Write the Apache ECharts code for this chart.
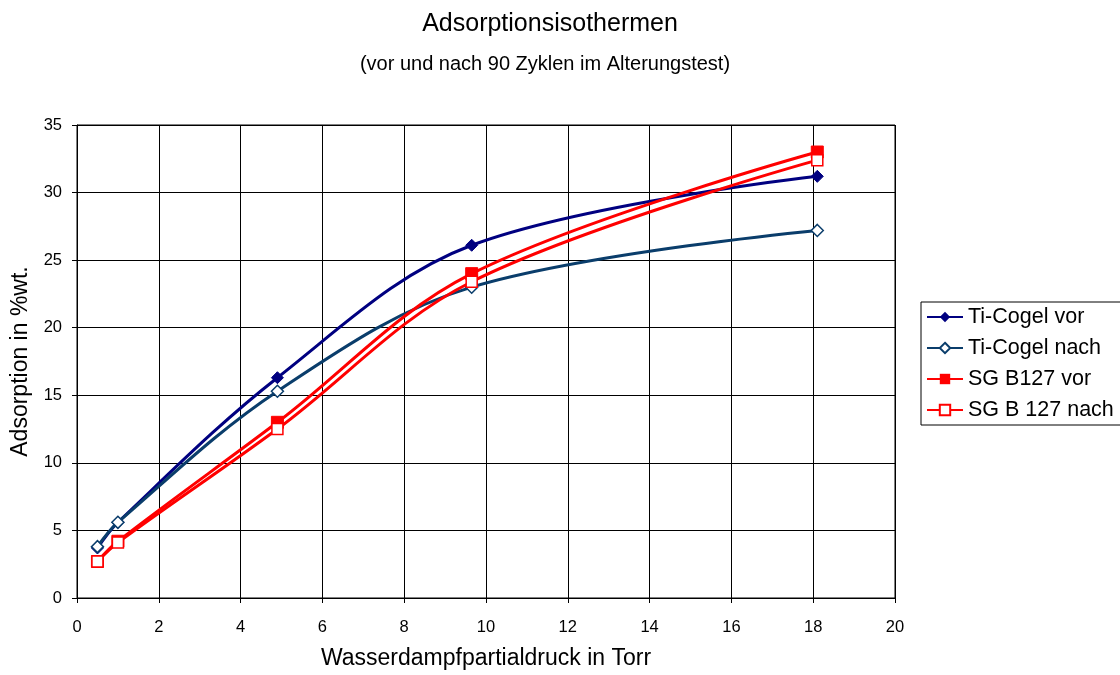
<!DOCTYPE html>
<html><head><meta charset="utf-8">
<script src="https://cdn.jsdelivr.net/npm/echarts@6/dist/echarts.min.js"></script>
<style>html,body{margin:0;padding:0;background:#fff}#c{width:1120px;height:675px}</style>
</head><body><div id="c"></div>
<script>
const pressure = [0.5, 1.0, 4.9, 9.65, 18.1];
const tiVor = [3.7, 5.6, 16.3, 26.1, 31.2];
const tiNach = [3.8, 5.6, 15.3, 23.0, 27.2];
const sgVor = [2.7, 4.2, 13.0, 24.0, 33.0];
const sgNach = [2.7, 4.1, 12.5, 23.4, 32.4];
const seriesNames = ['Ti-Cogel vor', 'Ti-Cogel nach', 'SG B127 vor', 'SG B 127 nach'];

const pairs = (ys) => pressure.map((x, i) => [x, ys[i]]);
const font = 'Liberation Sans, Arial, sans-serif';
const chart = echarts.init(document.getElementById('c'));
chart.setOption({
  animation: false,
  backgroundColor: '#fff',
  title: [
    {text: 'Adsorptionsisothermen', left: 545, top: 7, textAlign: 'center',
     textStyle: {fontFamily: font, fontSize: 25, fontWeight: 'normal', color: '#000'}},
    {text: '(vor und nach 90 Zyklen im Alterungstest)', left: 540, top: 49, textAlign: 'center',
     textStyle: {fontFamily: font, fontSize: 20, fontWeight: 'normal', color: '#000'}}
  ],
  legend: {
    orient: 'vertical', left: 921, top: 302, padding: [4, 30, 4, 5],
    itemGap: 9, itemWidth: 36, itemHeight: 13,
    borderColor: '#000', borderWidth: 1,
    textStyle: {fontFamily: font, fontSize: 21.5, color: '#000'},
    data: seriesNames
  },
  grid: {left: 77, right: 225, top: 125, bottom: 69, show: true, borderColor: '#000', borderWidth: 1},
  xAxis: {
    type: 'value', min: 0, max: 20, interval: 2,
    name: 'Wasserdampfpartialdruck in Torr', nameLocation: 'middle', nameGap: 49,
    nameTextStyle: {fontFamily: font, fontSize: 23, color: '#000'},
    axisLine: {lineStyle: {color: '#000'}},
    axisTick: {show: true, lineStyle: {color: '#000'}, length: 5},
    axisLabel: {fontFamily: font, fontSize: 16.5, color: '#000', margin: 21},
    splitLine: {lineStyle: {color: '#000', width: 1}}
  },
  yAxis: {
    type: 'value', min: 0, max: 35, interval: 5,
    name: 'Adsorption in %wt.', nameLocation: 'middle', nameGap: 45,
    nameTextStyle: {fontFamily: font, fontSize: 23, color: '#000'},
    axisLine: {show: true, lineStyle: {color: '#000'}},
    axisTick: {show: true, lineStyle: {color: '#000'}, length: 5},
    axisLabel: {fontFamily: font, fontSize: 16.5, color: '#000', margin: 15},
    splitLine: {lineStyle: {color: '#000', width: 1}}
  },
  series: [
    {name: seriesNames[0], type: 'line', data: pairs(tiVor), smooth: 0.35,
     symbol: 'diamond', symbolSize: 12, showAllSymbol: true,
     lineStyle: {color: '#000080', width: 3},
     itemStyle: {color: '#000080', borderColor: '#000080'}},
    {name: seriesNames[1], type: 'line', data: pairs(tiNach), smooth: 0.35,
     symbol: 'diamond', symbolSize: 12,
     lineStyle: {color: '#0a3d6b', width: 3},
     itemStyle: {color: '#fff', borderColor: '#0a3d6b', borderWidth: 1.5}},
    {name: seriesNames[2], type: 'line', data: pairs(sgVor), smooth: 0.35,
     symbol: 'rect', symbolSize: 12,
     lineStyle: {color: '#ff0000', width: 3},
     itemStyle: {color: '#ff0000', borderColor: '#ff0000'}},
    {name: seriesNames[3], type: 'line', data: pairs(sgNach), smooth: 0.35,
     symbol: 'rect', symbolSize: 11,
     lineStyle: {color: '#ff0000', width: 3},
     itemStyle: {color: '#fff', borderColor: '#ff0000', borderWidth: 1.5}}
  ]
});
</script></body></html>
